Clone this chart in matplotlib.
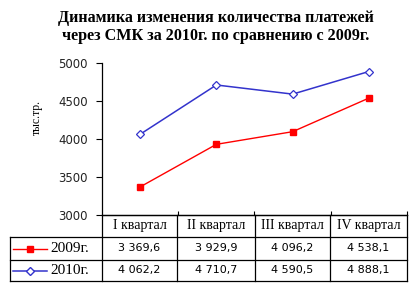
import matplotlib.pyplot as plt

quarters = ['I квартал', 'II квартал', 'III квартал', 'IV квартал']
series_names = ['2009г.', '2010г.']
values_2009 = [3369.6, 3929.9, 4096.2, 4538.1]
values_2010 = [4062.2, 4710.7, 4590.5, 4888.1]
yticks = [3000, 3500, 4000, 4500, 5000]
title = 'Динамика изменения количества платежей\nчерез СМК за 2010г. по сравнению с 2009г.'
ylabel = 'тыс.тр.'


def fmt(v):
    # 3369.6 -> "3 369,6"
    s = f'{v:,.1f}'
    return s.replace(',', ' ').replace('.', ',')


W, H = 418, 290
fig = plt.figure(figsize=(W / 100, H / 100), dpi=100)

serif = 'Liberation Serif'
sans = 'DejaVu Sans'

# chart area
ax = fig.add_axes([102 / W, 1 - 215 / H, 305 / W, 152 / H])
x = range(len(quarters))
styles = [
    dict(color='#FF0000', marker='s', markersize=5, markerfacecolor='#FF0000', markeredgecolor='#FF0000', lw=1),
    dict(color='#3333CC', marker='D', markersize=4.5, markerfacecolor='white', markeredgecolor='#3333CC', markeredgewidth=0.9, lw=1.1),
]
for vals, st in zip([values_2009, values_2010], styles):
    ax.plot(x, vals, **st, clip_on=False)

ax.set_xlim(-0.5, len(quarters) - 0.5)
ax.set_ylim(yticks[0], yticks[-1])
ax.set_yticks(yticks)
ax.set_yticklabels([str(t) for t in yticks], fontsize=8.5, family=sans, color='#222222')
ax.set_xticks([i + 0.5 for i in range(len(quarters))])
ax.set_xticklabels([])
ax.tick_params(axis='y', direction='out', length=4, width=0.8, pad=6)
ax.tick_params(axis='x', direction='in', length=3, width=0.8)
for s in ['top', 'right']:
    ax.spines[s].set_visible(False)
ax.spines['left'].set_linewidth(0.9)
ax.spines['bottom'].set_linewidth(0.9)

fig.text(37 / W, 1 - 118 / H, ylabel, rotation=90, ha='center', va='center',
         fontsize=8.5, family=serif)
fig.text(216 / W, 1 - 27 / H, title, ha='center', va='center', fontsize=11.6,
         family=serif, weight='bold', linespacing=1.25)

# data table below the chart
tab = fig.add_axes([0, 0, 1, 1])
tab.set_xlim(0, W)
tab.set_ylim(H, 0)
tab.axis('off')
cols = [10, 102, 177, 255, 330, 407]
rows = [215, 237, 260, 281]
lk = dict(color='black', lw=0.9)
tab.plot([cols[1], cols[-1]], [rows[0], rows[0]], **lk)
for r in rows[1:]:
    tab.plot([cols[0], cols[-1]], [r, r], **lk)
tab.plot([cols[0], cols[0]], [rows[1], rows[-1]], **lk)
for c in cols[1:]:
    tab.plot([c, c], [rows[0], rows[-1]], **lk)

for i, q in enumerate(quarters):
    cx = (cols[i + 1] + cols[i + 2]) / 2
    tab.text(cx, (rows[0] + rows[1]) / 2, q, ha='center', va='center',
             fontsize=10, family=serif)

for j, (name, vals, st) in enumerate(zip(series_names, [values_2009, values_2010], styles)):
    cy = (rows[j + 1] + rows[j + 2]) / 2
    tab.plot([13, 47], [cy, cy], color=st['color'], lw=st['lw'])
    tab.plot([30], [cy], linestyle='none', marker=st['marker'],
             markersize=st['markersize'] - 0.5, markerfacecolor=st['markerfacecolor'],
             markeredgecolor=st['markeredgecolor'])
    tab.text(50, cy, name, ha='left', va='center', fontsize=11, family=serif)
    for i, v in enumerate(vals):
        cx = (cols[i + 1] + cols[i + 2]) / 2
        tab.text(cx, cy, fmt(v), ha='center', va='center', fontsize=8, family=sans)

fig.savefig('out.png', dpi=100)
